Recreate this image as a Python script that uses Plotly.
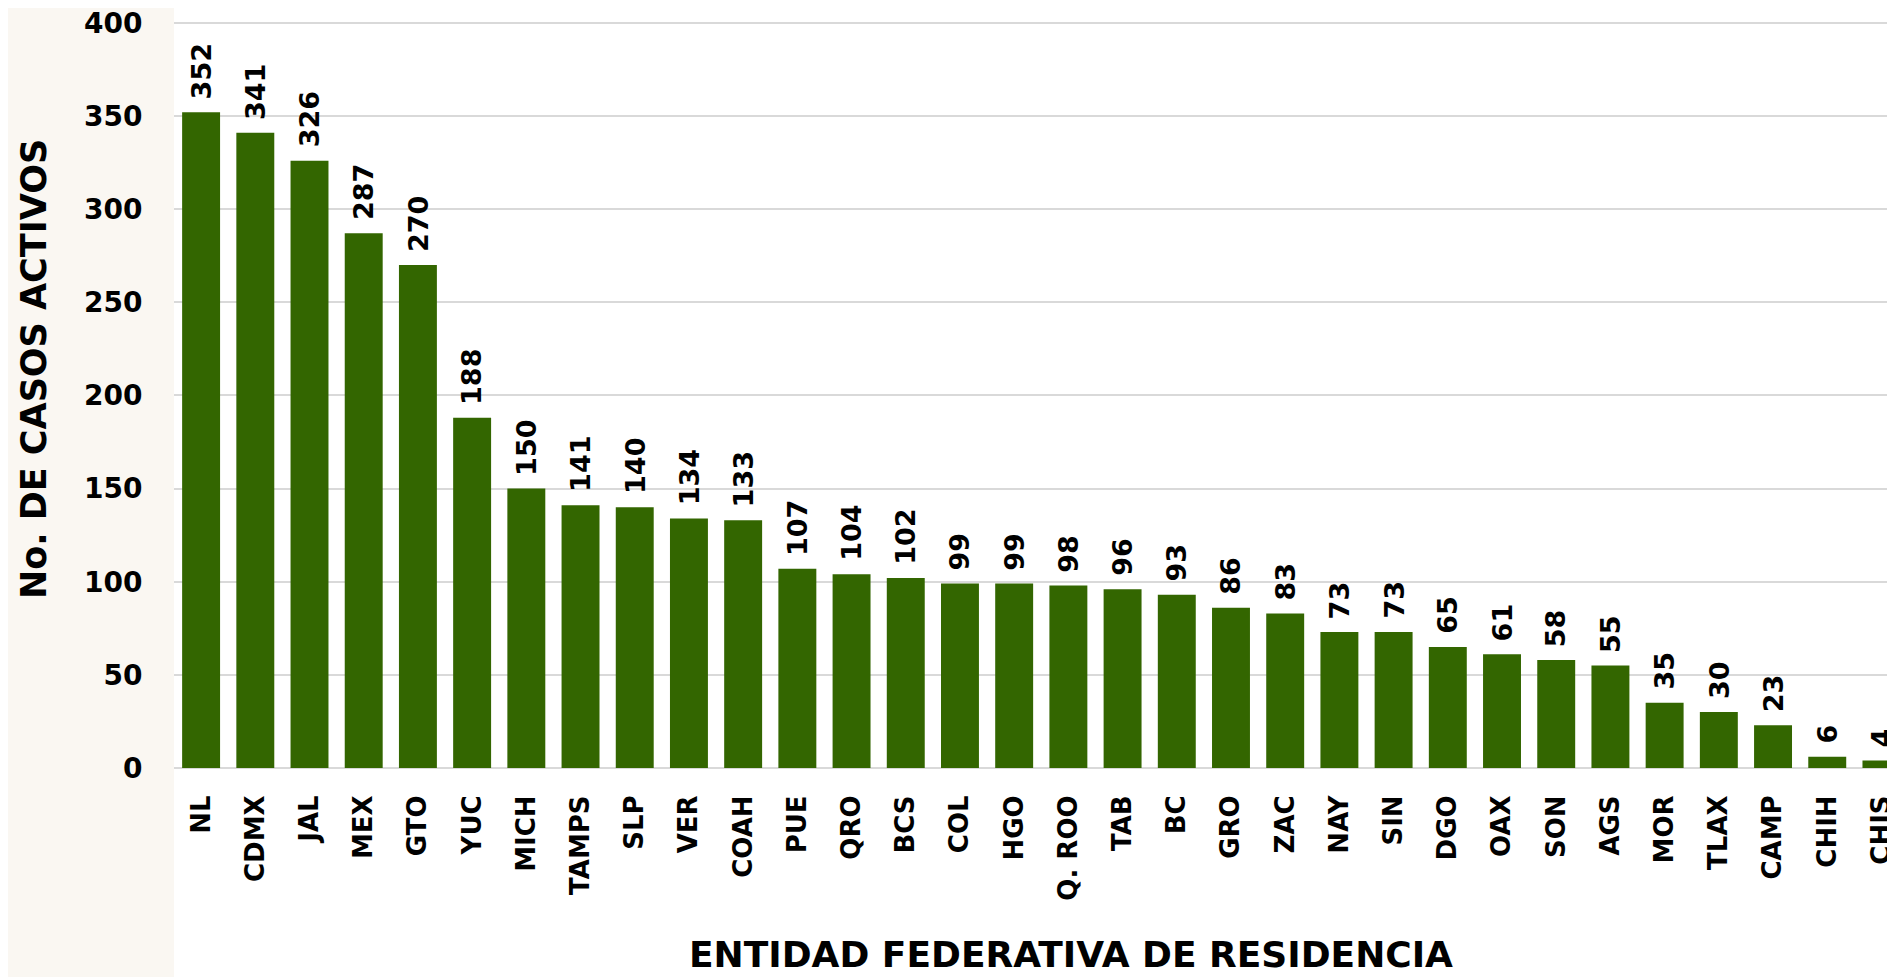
import plotly.graph_objects as go

estados = ["NL", "CDMX", "JAL", "MEX", "GTO", "YUC", "MICH", "TAMPS", "SLP", "VER",
           "COAH", "PUE", "QRO", "BCS", "COL", "HGO", "Q. ROO", "TAB", "BC", "GRO",
           "ZAC", "NAY", "SIN", "DGO", "OAX", "SON", "AGS", "MOR", "TLAX", "CAMP",
           "CHIH", "CHIS"]
casos = [352, 341, 326, 287, 270, 188, 150, 141, 140, 134,
         133, 107, 104, 102, 99, 99, 98, 96, 93, 86,
         83, 73, 73, 65, 61, 58, 55, 35, 30, 23,
         6, 4]
y_ticks = [0, 50, 100, 150, 200, 250, 300, 350, 400]

FONT = "DejaVu Sans"
GREEN = "#336600"

fig = go.Figure()
fig.add_trace(go.Bar(
    x=estados, y=casos,
    marker=dict(color=GREEN, line=dict(width=0)),
    width=0.7,
    hoverinfo="x+y",
))

annotations = []
for e, v in zip(estados, casos):
    annotations.append(dict(
        x=e, y=v, xref="x", yref="y",
        text=str(v), showarrow=False, textangle=-90,
        xanchor="center", yanchor="bottom", yshift=11,
        font=dict(family=FONT, size=27, color="#000000", weight="bold"),
    ))

annotations.append(dict(
    x=0.521, y=0, xref="paper", yref="paper", yshift=-186,
    text="ENTIDAD FEDERATIVA DE RESIDENCIA", showarrow=False,
    xanchor="center", yanchor="middle",
    font=dict(family=FONT, size=36, color="#000000", weight="bold"),
))
annotations.append(dict(
    x=0, y=0.534, xref="paper", yref="paper", xshift=-140,
    text="No. DE CASOS ACTIVOS", showarrow=False, textangle=-90,
    xanchor="center", yanchor="middle",
    font=dict(family=FONT, size=35, color="#000000", weight="bold"),
))

fig.update_layout(
    width=1887, height=969,
    margin=dict(l=166, r=0, t=13, b=209, pad=0),
    paper_bgcolor="#ffffff",
    plot_bgcolor="rgba(0,0,0,0)",
    showlegend=False,
    bargap=0.3,
    annotations=annotations,
    shapes=[dict(type="rect", xref="paper", yref="paper", x0=-0.1, x1=0.0,
                 y0=-0.3, y1=1.05, fillcolor="#faf7f2", line=dict(width=0),
                 layer="below")],
)
fig.update_xaxes(
    range=[-0.5, 31.25],
    tickangle=-90,
    tickfont=dict(family=FONT, size=26, color="#000000", weight="bold"),
    ticks="outside", ticklen=16, tickcolor="rgba(0,0,0,0)",
    showgrid=False, showline=False, zeroline=False,
    fixedrange=True,
)
fig.update_yaxes(
    range=[0, 401],
    tickvals=y_ticks,
    ticklabeloverflow="allow",
    tickfont=dict(family=FONT, size=28, color="#000000", weight="bold"),
    ticks="outside", ticklen=25, tickcolor="rgba(0,0,0,0)",
    showgrid=True, gridcolor="#d9d9d9", gridwidth=2,
    zeroline=True, zerolinecolor="#d9d9d9", zerolinewidth=2,
    showline=False,
    fixedrange=True,
)

fig.write_html("out.html")
